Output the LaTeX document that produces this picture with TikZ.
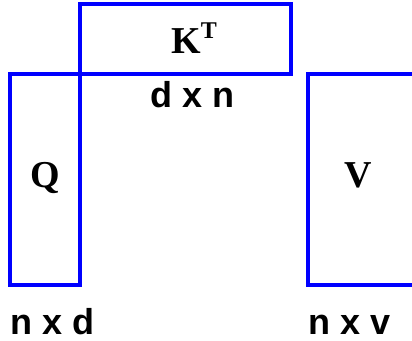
\documentclass[tikz,border=0pt]{standalone}
\usepackage{fontspec}
\setmainfont{Liberation Serif}
\newfontfamily\dimfont{Liberation Sans}
\tikzset{
  mat/.style={draw=blue, line width=3.2pt},
  dimlabel/.style={anchor=base west, inner sep=0pt, font=\dimfont\bfseries\fontsize{36}{40}\selectfont},
  matlabel/.style={anchor=base west, inner sep=0pt, font=\bfseries\fontsize{38}{42}\selectfont}
}
\begin{document}
\begin{tikzpicture}[x=1pt,y=-1pt]
\useasboundingbox (0,0) rectangle (412,340);
\begin{scope}
\clip (0,0) rectangle (412,340);
\draw[mat] (80,4) rectangle (291,74);
\draw[mat] (10,74) rectangle (80,285);
\draw[mat] (308,74) rectangle (430,285);
\end{scope}
\node[matlabel] (k) at (171,53) {K\raisebox{15pt}{\fontsize{24}{26}\selectfont T}};
\node[matlabel] (q) at (30,187) {Q};
\node[matlabel] (v) at (344,187) {V};
\node[dimlabel] (dn) at (150,107) {d x n};
\node[dimlabel] (nd) at (10,334) {n x d};
\node[dimlabel] (nv) at (308,334) {n x v};
\end{tikzpicture}
\end{document}
